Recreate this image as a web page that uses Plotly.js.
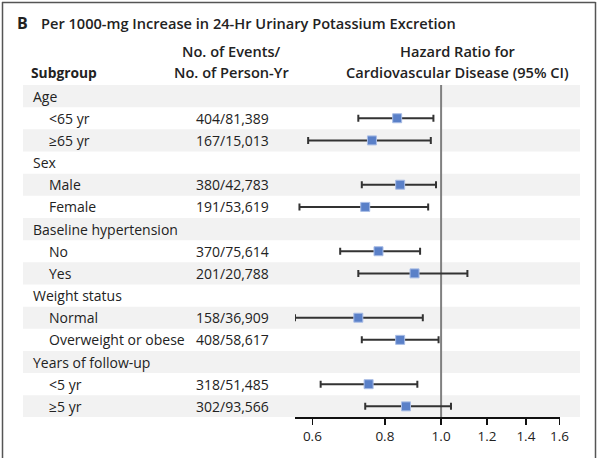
<!DOCTYPE html>
<html><head><meta charset="utf-8">
<script src="https://cdn.plot.ly/plotly-3.0.1.min.js"></script>
<style>html,body{margin:0;padding:0;background:#fff}#chart{width:597px;height:458px}</style>
</head><body><div id="chart"></div>
<script>
// ---- data ----
const labels = ['Age','<65 yr','≥65 yr','Sex','Male','Female','Baseline hypertension','No','Yes','Weight status','Normal','Overweight or obese','Years of follow-up','<5 yr','≥5 yr'];
const isGroup = [1,0,0,1,0,0,1,0,0,1,0,0,1,0,0];
const events = ['','404/81,389','167/15,013','','380/42,783','191/53,619','','370/75,614','201/20,788','','158/36,909','408/58,617','','318/51,485','302/93,566'];
const hr   = [null,0.84,0.76,null,0.85,0.74,null,0.78,0.90,null,0.72,0.85,null,0.75,0.87];
const lo   = [null,0.72,0.59,null,0.73,0.57,null,0.67,0.72,null,0.56,0.73,null,0.62,0.74];
const hi   = [null,0.97,0.96,null,0.98,0.95,null,0.92,1.11,null,0.93,0.99,null,0.91,1.04];
const tickVals = [0.6,0.8,1.0,1.2,1.4,1.6];
const tickText = ['0.6','0.8','1.0','1.2','1.4','1.6'];

// ---- layout helpers ----
const W = 597, H = 458;
const px = x => x / W;
const py = y => 1 - y / H;
const FONT = 'Open Sans, Noto Sans, sans-serif';
const TXT = '#222';

const rows = labels.map((_, i) => i);
const pts = rows.filter(i => hr[i] !== null);

const trace = {
  type: 'scatter', mode: 'markers',
  x: pts.map(i => hr[i]), y: pts.map(i => i),
  marker: {symbol: 'square', size: 9, color: '#5a80c8', line: {width: 1, color: '#a9bde6'}},
  error_x: {type: 'data', symmetric: false,
    array: pts.map(i => hi[i] - hr[i]), arrayminus: pts.map(i => hr[i] - lo[i]),
    color: '#333', thickness: 2, width: 3.5},
  hoverinfo: 'skip', showlegend: false, cliponaxis: false
};

const shapes = [];
rows.forEach(i => {
  if (i % 2 === 0) shapes.push({type: 'rect', layer: 'below', xref: 'paper', yref: 'y',
    x0: px(23), x1: px(580), y0: i - 0.5, y1: i + 0.5, fillcolor: '#f2f2f2', line: {width: 0}});
});
shapes.push({type: 'line', xref: 'x', yref: 'y', x0: 1, x1: 1, y0: -0.55, y1: 14.5,
  line: {color: '#808080', width: 2}, layer: 'below'});
// frame
shapes.push({type: 'line', xref: 'paper', yref: 'paper', x0: px(2), x1: px(595.5), y0: py(2.5), y1: py(2.5), line: {color: '#555', width: 1.5}});
shapes.push({type: 'line', xref: 'paper', yref: 'paper', x0: px(2.5), x1: px(2.5), y0: py(2), y1: py(460), line: {color: '#555', width: 1.5}});
shapes.push({type: 'line', xref: 'paper', yref: 'paper', x0: px(595.5), x1: px(595.5), y0: py(2), y1: py(460), line: {color: '#555', width: 1.5}});

const ann = [];
rows.forEach(i => {
  ann.push({xref: 'paper', yref: 'y', x: px(isGroup[i] ? 31 : 47), y: i, text: labels[i],
    showarrow: false, xanchor: 'left', yanchor: 'middle', font: {family: FONT, size: 14, color: TXT}});
  if (events[i]) ann.push({xref: 'paper', yref: 'y', x: px(194), y: i, text: events[i],
    showarrow: false, xanchor: 'left', yanchor: 'middle', font: {family: FONT, size: 14, color: TXT}});
});
const hdr = (x, y, t, anchor, size, weight) => ann.push({xref: 'paper', yref: 'paper', x: px(x), y: py(y), text: t,
  showarrow: false, xanchor: anchor, yanchor: 'middle', font: {family: FONT, size: size, color: TXT, weight: weight}});
hdr(15, 23, 'B', 'left', 16, 700);
hdr(39, 23, 'Per 1000-mg Increase in 24-Hr Urinary Potassium Excretion', 'left', 14.6, 600);
hdr(231, 51, 'No. of Events/', 'center', 14.6, 600);
hdr(231, 72, 'No. of Person-Yr', 'center', 14.6, 600);
hdr(29, 72, 'Subgroup', 'left', 13.8, 700);
hdr(457.5, 51, 'Hazard Ratio for', 'center', 14.6, 600);
hdr(457.5, 72, 'Cardiovascular Disease (95% CI)', 'center', 14.6, 600);

const layout = {
  width: W, height: H, margin: {l: 0, r: 0, t: 0, b: 0},
  paper_bgcolor: '#fff', plot_bgcolor: 'rgba(0,0,0,0)',
  xaxis: {type: 'log', range: [Math.log10(0.56), Math.log10(1.603)], domain: [px(295), px(560)],
    showline: true, linecolor: '#111', linewidth: 1.5, ticks: 'outside', ticklen: 6, tickwidth: 1.5, tickcolor: '#111',
    tickvals: tickVals, ticktext: tickText, showgrid: false, zeroline: false,
    tickfont: {family: FONT, size: 13.5, color: TXT}, fixedrange: true},
  yaxis: {range: [14.48, -0.5], domain: [py(417), py(85)], visible: false, showgrid: false, zeroline: false, fixedrange: true},
  shapes: shapes, annotations: ann, showlegend: false
};
Plotly.newPlot('chart', [trace], layout, {displayModeBar: false, staticPlot: true});
</script></body></html>
